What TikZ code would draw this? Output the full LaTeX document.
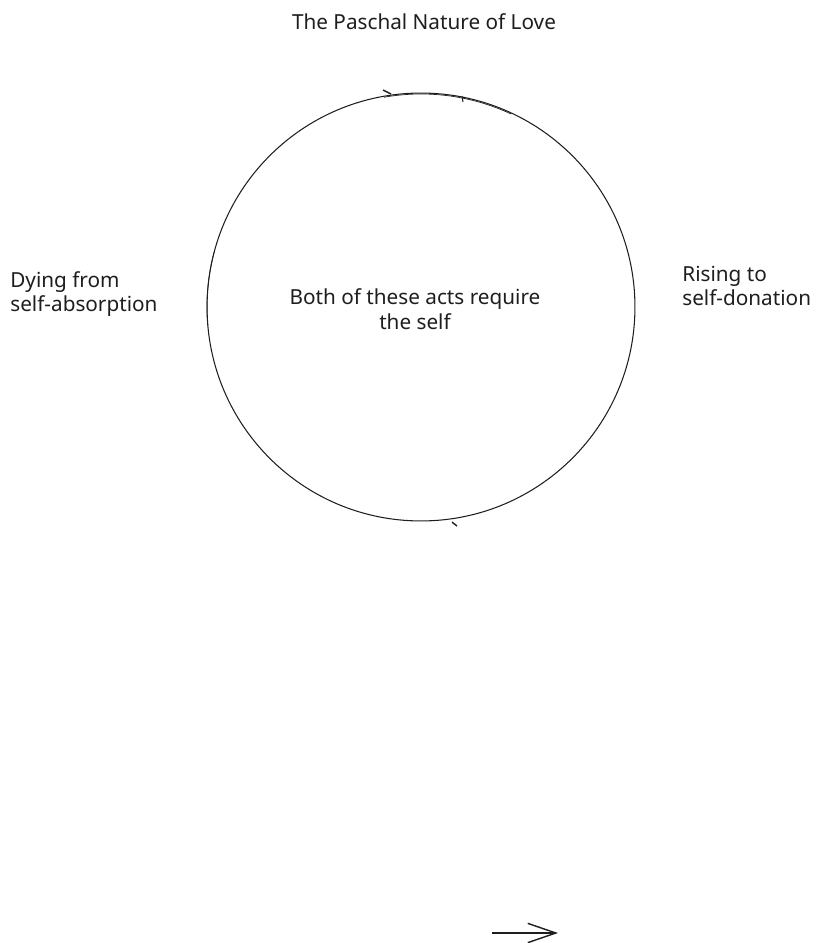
\documentclass[tikz,border=0pt]{standalone}
\usepackage{fontspec}
\setmainfont{Noto Sans}
\usetikzlibrary{arrows.meta,positioning}
\definecolor{InkD}{RGB}{30,30,30}

\begin{document}
\begin{tikzpicture}[x=0.02cm,y=-0.02cm,
    lbl/.style={font=\fontsize{11.8}{14}\selectfont,text=InkD,inner sep=0pt},
    ring/.style={draw=InkD,circle,minimum size=8.56cm,inner sep=0pt,line width=0.6pt}]
  \useasboundingbox (0,0) rectangle (817,943);
  % title
  \node[lbl] (title) at (424,22) {The Paschal Nature of Love};
  % the cycle
  \node[ring] (love) at (421,307) {};
  \draw[InkD,line width=0.4pt] (421,307) ++(-100:213) arc (-100:-65:213);
  \draw[InkD,line width=0.4pt] (421,307) ++(175:214) arc (175:195:214);
  \node[lbl,align=center] (both) at (415,309) {Both of these acts require\\the self};
  \node[lbl,align=left,anchor=west] (dying) at (10,294) {Dying from\\self-absorption};
  \node[lbl,align=left,anchor=west] (rising) at (682,286) {Rising to\\self-donation};
  % small tips on the ring
  \draw[InkD,line width=0.8pt] (383,90) -- (391,94);
  \draw[InkD,line width=0.6pt] (462,96) -- (463,102);
  \draw[InkD,line width=0.8pt] (452,522) -- (457,526);
  % loose arrow
  \coordinate (tail) at (492,933);
  \coordinate (head) at (558,933);
  \draw[InkD,line width=0.8pt,-{Straight Barb[length=16pt,width=11pt]}] (tail) -- (head);
\end{tikzpicture}
\end{document}
